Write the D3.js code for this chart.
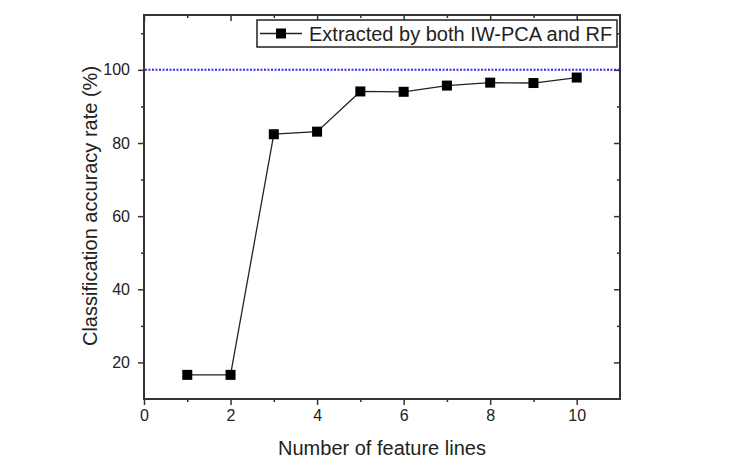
<!DOCTYPE html>
<html>
<head>
<meta charset="utf-8">
<script src="https://cdn.jsdelivr.net/npm/d3@7"></script>
<style>
  body { margin: 0; background: #fff; }
  text { font-family: Arial, "Liberation Sans", sans-serif; fill: #222; }
</style>
</head>
<body>
<svg id="chart" width="736" height="470"></svg>
<script>
// data
var featureLines = [1, 2, 3, 4, 5, 6, 7, 8, 9, 10];
var accuracy = [16.6, 16.6, 82.4, 83.1, 94.1, 94.0, 95.7, 96.5, 96.4, 97.9];
var xTicks = [0, 2, 4, 6, 8, 10];
var xMinor = [1, 3, 5, 7, 9];
var yTicks = [20, 40, 60, 80, 100];
var yMinor = [30, 50, 70, 90, 110];
var seriesName = "Extracted by both IW-PCA and RF";
var refLevel = 100;

var margin = {top: 15, right: 116, bottom: 71, left: 144},
    width = 736 - margin.left - margin.right,
    height = 470 - margin.top - margin.bottom;

var x = d3.scaleLinear().domain([0, 11]).range([0, width]);
var y = d3.scaleLinear().domain([10, 115]).range([height, 0]);

var svg = d3.select("#chart")
  .append("g")
    .attr("transform", "translate(" + margin.left + "," + margin.top + ")");

function noDomain(g) { g.select(".domain").remove(); }

// bottom axis, ticks pointing out
svg.append("g")
    .attr("class", "labels")
    .attr("transform", "translate(0," + height + ")")
    .call(d3.axisBottom(x).tickValues(xTicks).tickSize(6).tickPadding(5).tickFormat(d3.format("d")))
    .call(noDomain);
svg.append("g")
    .attr("transform", "translate(0," + height + ")")
    .call(d3.axisBottom(x).tickValues(xMinor).tickSize(3).tickFormat(""))
    .call(noDomain);

// top axis, ticks pointing in
svg.append("g")
    .call(d3.axisTop(x).tickValues(xTicks).tickSize(-6).tickFormat(""))
    .call(noDomain);
svg.append("g")
    .call(d3.axisTop(x).tickValues(xMinor).tickSize(-3).tickFormat(""))
    .call(noDomain);

// left axis, ticks pointing out
svg.append("g")
    .attr("class", "labels")
    .call(d3.axisLeft(y).tickValues(yTicks).tickSize(6).tickPadding(8))
    .call(noDomain);
svg.append("g")
    .call(d3.axisLeft(y).tickValues(yMinor).tickSize(3).tickFormat(""))
    .call(noDomain);

// right axis, ticks pointing in
svg.append("g")
    .attr("transform", "translate(" + width + ",0)")
    .call(d3.axisRight(y).tickValues(yTicks).tickSize(-6).tickFormat(""))
    .call(noDomain);
svg.append("g")
    .attr("transform", "translate(" + width + ",0)")
    .call(d3.axisRight(y).tickValues(yMinor).tickSize(-3).tickFormat(""))
    .call(noDomain);

svg.selectAll(".tick line").attr("stroke", "#333").attr("stroke-width", 1.5);
svg.selectAll(".labels").attr("font-size", null);
svg.selectAll(".labels .tick text").style("font-size", "16px");

// frame
svg.append("rect")
    .attr("width", width)
    .attr("height", height)
    .attr("fill", "none")
    .attr("stroke", "#333")
    .attr("stroke-width", 2);

// reference line at 100%
svg.append("line")
    .attr("x1", 1).attr("x2", width - 1)
    .attr("y1", y(refLevel)).attr("y2", y(refLevel))
    .attr("stroke", "#2a2aff")
    .attr("stroke-width", 2)
    .attr("stroke-dasharray", "2,1.5");

// series line
var data = featureLines.map(function(d, i) { return {x: d, y: accuracy[i]}; });

var line = d3.line()
    .x(function(d) { return x(d.x); })
    .y(function(d) { return y(d.y); });

svg.append("path")
    .datum(data)
    .attr("fill", "none")
    .attr("stroke", "#222")
    .attr("stroke-width", 1.3)
    .attr("d", line);

svg.selectAll(".marker")
    .data(data)
  .enter().append("rect")
    .attr("class", "marker")
    .attr("x", function(d) { return x(d.x) - 5; })
    .attr("y", function(d) { return y(d.y) - 5; })
    .attr("width", 10)
    .attr("height", 10)
    .attr("fill", "#000");

// legend
var legend = svg.append("g").attr("transform", "translate(" + (257 - margin.left) + "," + (20 - margin.top) + ")");
legend.append("rect")
    .attr("width", 360)
    .attr("height", 27)
    .attr("fill", "#fff")
    .attr("stroke", "#222")
    .attr("stroke-width", 1.5);
legend.append("line")
    .attr("x1", 3).attr("x2", 45)
    .attr("y1", 13.5).attr("y2", 13.5)
    .attr("stroke", "#222")
    .attr("stroke-width", 1.3);
legend.append("rect")
    .attr("x", 19).attr("y", 8.5)
    .attr("width", 10).attr("height", 10)
    .attr("fill", "#000");
legend.append("text")
    .attr("x", 52)
    .attr("y", 20.5)
    .style("font-size", "20px")
    .text(seriesName);

// axis titles
svg.append("text")
    .attr("x", width / 2)
    .attr("y", height + 56)
    .attr("text-anchor", "middle")
    .style("font-size", "20px")
    .text("Number of feature lines");

svg.append("text")
    .attr("transform", "rotate(-90)")
    .attr("x", -191)
    .attr("y", -47)
    .attr("text-anchor", "middle")
    .style("font-size", "20px")
    .text("Classification accuracy rate (%)");
</script>
</body>
</html>
